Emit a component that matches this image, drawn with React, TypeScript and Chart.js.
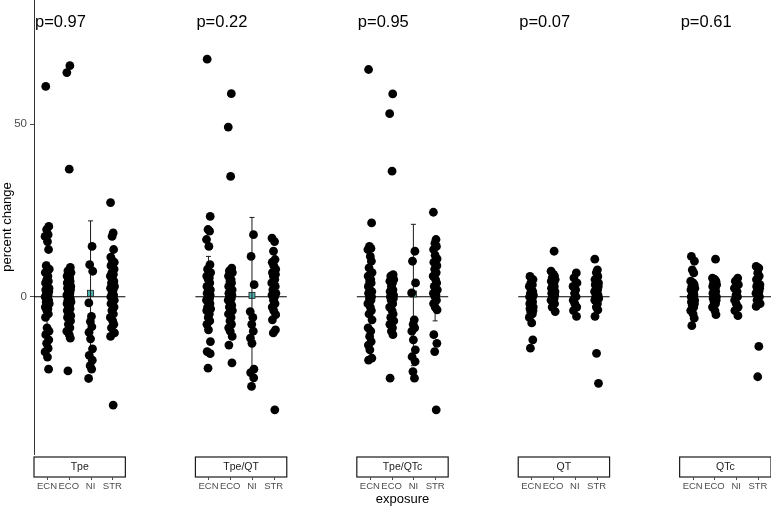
import React, { useEffect, useRef } from "react";
import { Chart, registerables } from "chart.js";

Chart.register(...registerables);

// ---------- data ----------
const panels = ["Tpe", "Tpe/QT", "Tpe/QTc", "QT", "QTc"];
const exposures = ["ECN", "ECO", "NI", "STR"];
const pValues = ["p=0.97", "p=0.22", "p=0.95", "p=0.07", "p=0.61"];
const yTickValues = [0, 50];

// Tpe
const tpeECN = [61, 20.4, 19.5, 18, 17.5, 16, 13.7, 9, 8, 7, 6, 5, 4.5, 4, 3, 2.5, 2, 1.5, 1, 0.5, 0, -0.5, -1, -1.5, -2, -3, -3.5, -4, -5, -6, -9, -10, -11, -12.5, -13.5, -15, -16, -17.5, -21];
const tpeECO = [67, 65, 37, 8.5, 7.5, 7, 6, 5.5, 5, 4.5, 4, 3.5, 3, 2.5, 2, 1.5, 1, 0.5, 0, -0.5, -1, -1.5, -2, -2.5, -3, -3.5, -4, -5, -5.5, -6, -7, -8, -9, -10, -11, -12, -21.5];
const tpeNI = [14.6, 9.3, 7.4, -1.8, -5.7, -7.2, -8.7, -10.3, -12.2, -15.1, -17, -18.4, -20, -21, -23.7];
const tpeSTR = [27.3, 18.5, 17.5, 13.7, 11.5, 10.5, 10, 9, 8, 7, 6.5, 6, 5, 4.5, 4, 3, 2.5, 2, 1, 0.5, 0, -0.5, -1, -2, -3, -4, -5, -6, -7, -8, -9, -10.5, -11.5, -31.4];

// Tpe/QT
const tpeQtECN = [68.9, 23.3, 19.5, 19, 16.6, 14.6, 9.3, 8, 7, 6, 5.5, 5, 4, 3, 2.5, 2, 1, 0.5, 0, -0.5, -1, -1.5, -2, -3, -3.5, -4, -5, -6, -7, -8, -9.6, -13, -15.9, -16.5, -20.7];
const tpeQtECO = [58.9, 49.2, 34.9, 8.3, 7.5, 7, 6, 5, 4.5, 4, 3, 2.5, 2, 1, 0.5, 0, -0.5, -1, -2, -2.5, -3, -4, -5, -6, -7, -8, -9, -10, -11.5, -14, -19.2];
const tpeQtNI = [18, 11.7, 3.5, -4.3, -6, -8, -10, -12, -13.5, -21, -22, -23.5, -26];
const tpeQtSTR = [17, 16, 13.2, 10.8, 10, 9, 8, 7, 6.5, 6, 5, 4, 3.5, 3, 2, 1, 0.5, 0, -1, -2, -3, -4, -5.2, -6.7, -9.6, -10.5, -32.8];

// Tpe/QTc
const tpeQtcECN = [65.9, 21.4, 14.6, 14, 13.7, 11.7, 10.3, 8.4, 7, 6, 5, 4.5, 4, 3, 2, 1.5, 1, 0, -0.5, -1, -2, -3, -4, -5, -6.7, -9, -10, -11.5, -13, -14, -15.4, -17.8, -18.4];
const tpeQtcECO = [58.8, 53.1, 36.4, 6.4, 6, 5, 4.5, 4, 3, 2, 1.5, 1, 0.5, 0, -0.5, -1, -2, -3, -4, -5, -6, -7, -8, -9, -10, -11, -23.6];
const tpeQtcNI = [13.2, 10.3, 4, 1.1, -6.7, -8, -9, -10, -12.5, -15.4, -17.4, -18.8, -21.7, -23.6];
const tpeQtcSTR = [24.5, 16.6, 15.5, 14.6, 13.7, 12, 11, 10, 9, 8, 7, 6, 5, 4, 3, 2, 1, 0.5, 0, -1, -2, -3, -3.8, -11, -13.5, -15.9, -32.8];

// QT
const qtECN = [5.9, 5, 4, 3.5, 3, 2, 1.5, 1, 0.5, 0, -0.5, -1, -1.5, -2, -2.5, -3, -3.5, -4, -4.5, -5, -6, -7.6, -12.5, -14.9];
const qtECO = [13.2, 7.4, 6.5, 6, 5.5, 5, 4.5, 4, 3.5, 3, 2.5, 2, 1.5, 1, 0.5, 0, -0.5, -1, -1.5, -2, -3, -4.3];
const qtNI = [6.9, 5.5, 4, 3, 2, 1, 0, -1, -2, -3, -4, -5.7];
const qtSTR = [10.9, 7.8, 7, 5.9, 5, 4.5, 4, 3.5, 3, 2.5, 2, 1.5, 1, 0.5, 0, -0.5, -1, -2, -3, -3.8, -5.7, -16.4, -25.1];

// QTc
const qtcECN = [11.7, 10.3, 7.8, 6.9, 4.5, 4, 3.5, 3, 2.5, 2, 1.5, 1, 0.5, 0, -0.5, -1, -1.5, -2, -2.5, -3, -4, -5, -6.2, -8.4];
const qtcECO = [10.9, 5.4, 5, 4.5, 4, 3.5, 3, 2.5, 2, 1.5, 1, 0.5, 0, -0.5, -1, -1.5, -2, -3, -4, -5.2];
const qtcNI = [5.4, 4.5, 3.5, 2.5, 1.5, 0.5, 0, -1, -2, -3, -4, -5.5];
const qtcSTR = [8.8, 8.3, 6.9, 6, 5, 4, 3.5, 3, 2.5, 2, 1.5, 1, 0.5, 0, -1, -2, -2.8, -14.4, -23.2];

// group summaries (mean, lower, upper) per panel, per exposure
const groupMeans = [
  [1, 1, 1, 1.5],
  [0.5, 0.5, 0.4, 1],
  [1, 0.5, 0.8, 1],
  [-1, 1.5, 0, 0.5],
  [0.5, 0.5, 0, 0.5],
];
const groupLower = [
  [-10, -8, -20, -8],
  [-10, -8, -22, -6],
  [-10, -8, -20, -7],
  [-4, -2, -3, -3],
  [-3, -2, -3, -2],
];
const groupUpper = [
  [10, 8, 22, 9],
  [11.7, 7, 23, 8],
  [10, 6, 21, 9],
  [3, 5, 3, 4],
  [3, 3, 3, 3],
];

const panelData = [
  [tpeECN, tpeECO, tpeNI, tpeSTR],
  [tpeQtECN, tpeQtECO, tpeQtNI, tpeQtSTR],
  [tpeQtcECN, tpeQtcECO, tpeQtcNI, tpeQtcSTR],
  [qtECN, qtECO, qtNI, qtSTR],
  [qtcECN, qtcECO, qtcNI, qtcSTR],
];

// ---------- layout constants ----------
const PITCH = 7.42; // x units between panel starts
const PANEL_W = 4.2; // 4 categories + 0.6 expansion each side
const jitter = [-0.06, 0.08, -0.02, 0.05, -0.09, 0.02, 0.07, -0.04, 0.1, -0.08, 0.04, -0.01, 0.06, -0.07, 0.0, 0.09];
const FONT = "'Liberation Sans', Arial, sans-serif";
const TEAL = "#4fb3b1";

const catX = (p: number, k: number) => p * PITCH + 0.6 + k;

const facetPlugin = {
  id: "facetDecor",
  beforeDatasetsDraw(chart: any) {
    const { ctx, scales } = chart;
    const xs = scales.x;
    const ys = scales.y;
    ctx.save();
    const y0 = ys.getPixelForValue(0);
    for (let p = 0; p < panels.length; p++) {
      const l = xs.getPixelForValue(p * PITCH);
      const r = xs.getPixelForValue(p * PITCH + PANEL_W);
      // zero line
      ctx.strokeStyle = "#000";
      ctx.lineWidth = 1.1;
      ctx.beginPath();
      ctx.moveTo(l, y0);
      ctx.lineTo(r, y0);
      ctx.stroke();
      for (let k = 0; k < exposures.length; k++) {
        const cx = xs.getPixelForValue(catX(p, k));
        const m = ys.getPixelForValue(groupMeans[p][k]);
        const lo = ys.getPixelForValue(groupLower[p][k]);
        const hi = ys.getPixelForValue(groupUpper[p][k]);
        // mean square
        ctx.fillStyle = TEAL;
        ctx.strokeStyle = "#1a1a1a";
        ctx.lineWidth = 0.8;
        ctx.fillRect(cx - 3, m - 3, 6, 6);
        ctx.strokeRect(cx - 3, m - 3, 6, 6);
        // error bar
        ctx.strokeStyle = "#1a1a1a";
        ctx.lineWidth = 1;
        ctx.beginPath();
        ctx.moveTo(cx, lo);
        ctx.lineTo(cx, hi);
        ctx.moveTo(cx - 2.5, lo);
        ctx.lineTo(cx + 2.5, lo);
        ctx.moveTo(cx - 2.5, hi);
        ctx.lineTo(cx + 2.5, hi);
        ctx.stroke();
      }
    }
    ctx.restore();
  },
  afterDraw(chart: any) {
    const { ctx, scales, chartArea } = chart;
    const xs = scales.x;
    ctx.save();
    for (let p = 0; p < panels.length; p++) {
      const l = xs.getPixelForValue(p * PITCH);
      const r = xs.getPixelForValue(p * PITCH + PANEL_W);
      // p-value
      ctx.fillStyle = "#000";
      ctx.font = `16.5px ${FONT}`;
      ctx.textAlign = "left";
      ctx.textBaseline = "alphabetic";
      ctx.fillText(pValues[p], l + 1, 27);
      // strip
      const sTop = chartArea.bottom + 3;
      const sBot = chartArea.bottom + 23;
      ctx.fillStyle = "#fff";
      ctx.fillRect(l, sTop, r - l, sBot - sTop);
      ctx.strokeStyle = "#1a1a1a";
      ctx.lineWidth = 1.2;
      ctx.strokeRect(l, sTop, r - l, sBot - sTop);
      ctx.fillStyle = "#1a1a1a";
      ctx.font = `10.5px ${FONT}`;
      ctx.textAlign = "center";
      ctx.textBaseline = "middle";
      ctx.fillText(panels[p], (l + r) / 2, (sTop + sBot) / 2 + 0.5);
      // tick marks below strip
      ctx.strokeStyle = "#4d4d4d";
      ctx.lineWidth = 1;
      ctx.beginPath();
      for (let k = 0; k < exposures.length; k++) {
        const cx = Math.round(xs.getPixelForValue(catX(p, k))) + 0.5;
        ctx.moveTo(cx, sBot);
        ctx.lineTo(cx, sBot + 3);
      }
      ctx.stroke();
    }
    ctx.restore();
  },
};

export default function App() {
  const ref = useRef<HTMLCanvasElement | null>(null);
  useEffect(() => {
    if (!ref.current) return;
    const datasets = panelData.map((groups, p) => ({
      label: panels[p],
      data: groups.flatMap((vals, k) =>
        vals.map((v, i) => ({ x: catX(p, k) + jitter[(i + k * 3) % jitter.length], y: v }))
      ),
      pointRadius: 4.4,
      pointBackgroundColor: "#000",
      pointBorderWidth: 0,
      pointHoverRadius: 4.4,
      showLine: false,
    }));
    const tickPositions: number[] = [];
    for (let p = 0; p < panels.length; p++)
      for (let k = 0; k < exposures.length; k++) tickPositions.push(catX(p, k));

    const chart = new Chart(ref.current, {
      type: "scatter",
      data: { datasets },
      plugins: [facetPlugin],
      options: {
        animation: false,
        responsive: false,
        maintainAspectRatio: false,
        layout: { padding: 0, autoPadding: false },
        plugins: { legend: { display: false }, tooltip: { enabled: false } },
        scales: {
          x: {
            type: "linear",
            min: 0,
            max: 4 * PITCH + PANEL_W,
            afterBuildTicks: (s: any) => {
              s.ticks = tickPositions.map((v) => ({ value: v }));
            },
            afterFit: (s: any) => {
              s.height = 55;
              s.paddingLeft = 0;
              s.paddingRight = 0;
            },
            grid: { display: false, drawTicks: false },
            border: { display: false },
            ticks: {
              autoSkip: false,
              maxRotation: 0,
              minRotation: 0,
              padding: 27,
              color: "#4d4d4d",
              font: { family: FONT, size: 9.5 },
              callback: (_v: any, i: number) => exposures[i % exposures.length],
            },
            title: {
              display: true,
              text: "exposure",
              color: "#000",
              font: { family: FONT, size: 13 },
              padding: { top: 0, bottom: 2 },
            },
          },
          y: {
            type: "linear",
            min: -45.6,
            max: 86.05,
            afterBuildTicks: (s: any) => {
              s.ticks = yTickValues.map((v) => ({ value: v }));
            },
            afterFit: (s: any) => {
              s.width = 34;
              s.paddingTop = 0;
              s.paddingBottom = 0;
            },
            grid: {
              display: true,
              drawOnChartArea: false,
              drawTicks: true,
              tickLength: 4,
              color: "#4d4d4d",
              tickColor: "#4d4d4d",
            },
            border: { display: true, color: "#333", width: 1 },
            ticks: {
              color: "#4d4d4d",
              padding: 3,
              font: { family: FONT, size: 11.5 },
              callback: (v: any) => String(v),
            },
            title: {
              display: true,
              text: "percent change",
              color: "#000",
              font: { family: FONT, size: 13 },
              padding: 0,
            },
          },
        },
      },
    });
    return () => chart.destroy();
  }, []);
  return (
    <div style={{ position: "absolute", left: 0, top: 0, width: 771, height: 509, background: "#fff" }}>
      <canvas ref={ref} width={771} height={509} style={{ display: "block" }} />
    </div>
  );
}
